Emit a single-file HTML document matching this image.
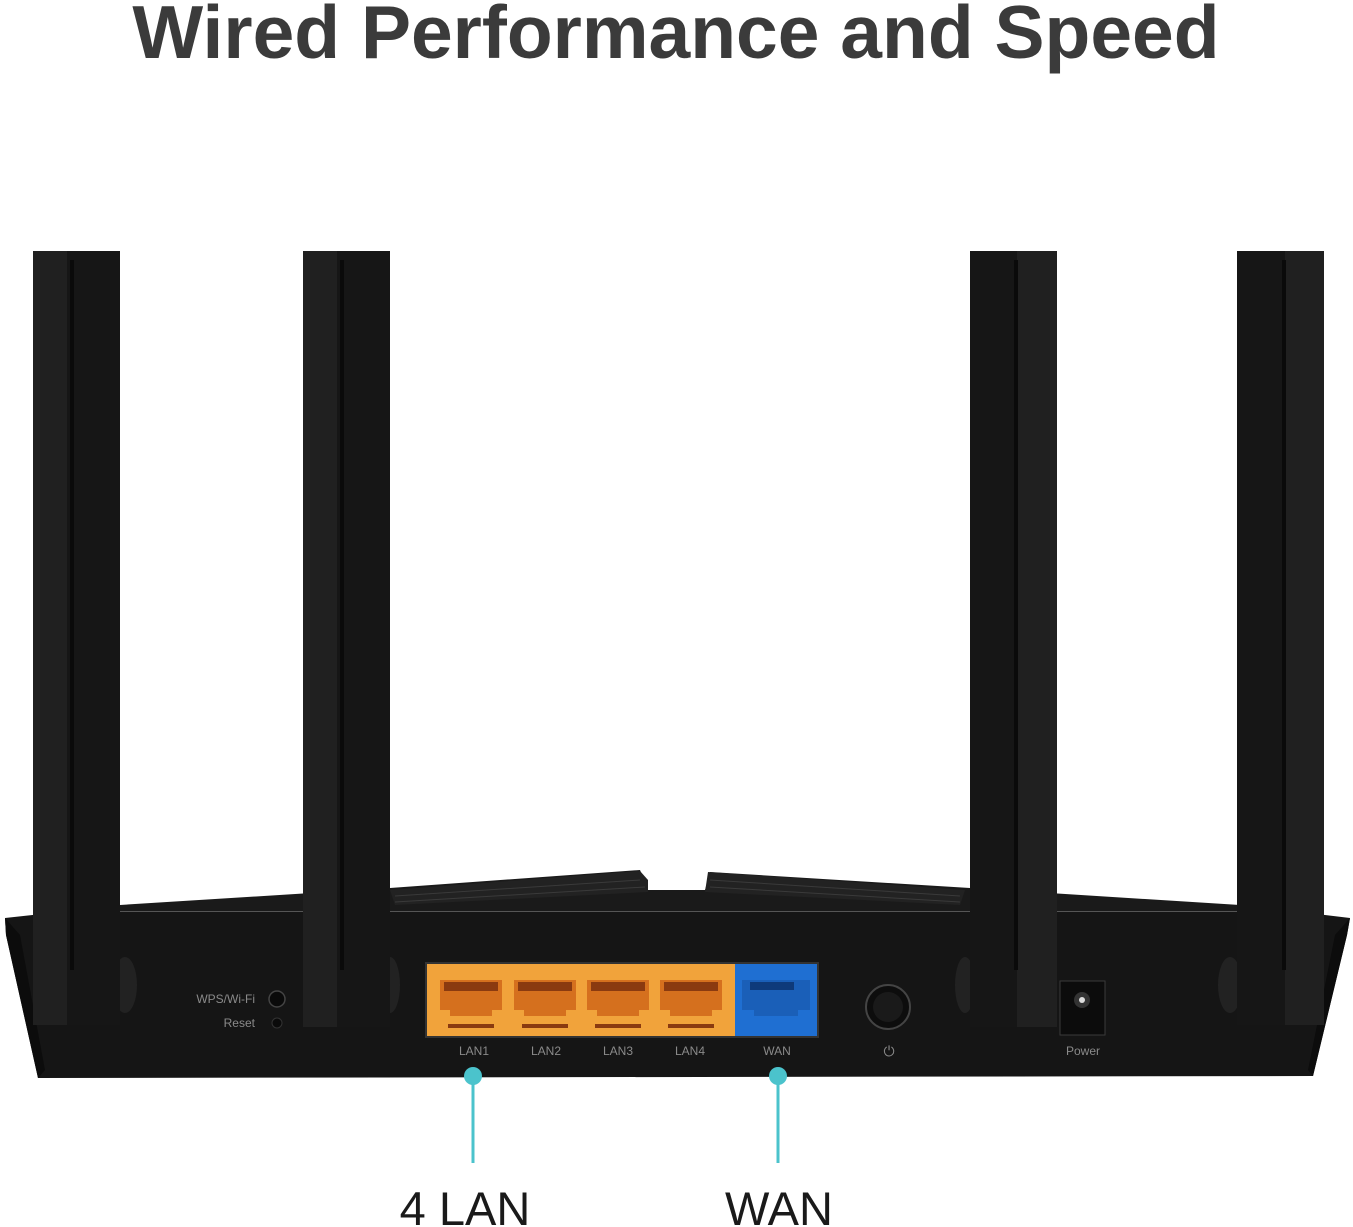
<!DOCTYPE html>
<html><head><meta charset="utf-8"><style>
html,body{margin:0;padding:0;background:#fff;}
svg{display:block;}
</style></head><body>
<svg width="1353" height="1227" viewBox="0 0 1353 1227" xmlns="http://www.w3.org/2000/svg">
<text x="676" y="58" text-anchor="middle" font-family="Liberation Sans, sans-serif" font-weight="bold" font-size="75" fill="#3b3b3b">Wired Performance and Speed</text>

<!-- top surface -->
<polygon points="120,905 390,888 640,870 648,890 705,890 710,872 970,888 1240,905 1300,912 60,912" fill="#1a1a1a"/>
<polygon points="390,890 640,871 648,880 648,892 395,905" fill="#222"/>
<polygon points="705,892 708,872 965,890 960,905" fill="#222"/>
<g stroke="#3a3a3a" stroke-width="1">
<line x1="395" y1="896" x2="640" y2="880"/><line x1="395" y1="902" x2="645" y2="887"/>
<line x1="710" y1="880" x2="960" y2="896"/><line x1="710" y1="887" x2="960" y2="902"/>
</g>
<line x1="60" y1="912" x2="1300" y2="912" stroke="#555" stroke-width="2"/>
<!-- front panel -->
<polygon points="5,918 60,912 1300,912 1350,918 1347,935 1313,1076 38,1078 6,935" fill="#151515"/>
<polygon points="5,918 20,935 45,1070 38,1078 6,935" fill="#0c0c0c"/>
<polygon points="1350,918 1335,935 1308,1070 1313,1076 1347,935" fill="#0c0c0c"/>

<!-- antenna bases -->
<ellipse cx="125" cy="985" rx="12" ry="28" fill="#222"/>
<ellipse cx="390" cy="985" rx="10" ry="28" fill="#222"/>
<ellipse cx="965" cy="985" rx="10" ry="28" fill="#222"/>
<ellipse cx="1230" cy="985" rx="12" ry="28" fill="#222"/>

<!-- antennas -->
<g>
<rect x="33" y="251" width="87" height="774" fill="#161616"/><rect x="33" y="251" width="34" height="774" fill="#202020"/><rect x="70" y="260" width="4" height="710" fill="#0a0a0a"/>
<rect x="303" y="251" width="87" height="776" fill="#161616"/><rect x="303" y="251" width="34" height="776" fill="#202020"/><rect x="340" y="260" width="4" height="710" fill="#0a0a0a"/>
<rect x="970" y="251" width="87" height="776" fill="#161616"/><rect x="1017" y="251" width="40" height="776" fill="#202020"/><rect x="1014" y="260" width="4" height="710" fill="#0a0a0a"/>
<rect x="1237" y="251" width="87" height="774" fill="#161616"/><rect x="1285" y="251" width="39" height="774" fill="#202020"/><rect x="1282" y="260" width="4" height="710" fill="#0a0a0a"/>
</g>

<!-- buttons -->
<g font-family="Liberation Sans, sans-serif" font-size="12" fill="#8a8a8a">
<text x="255" y="1003" text-anchor="end">WPS/Wi-Fi</text>
<text x="255" y="1027" text-anchor="end">Reset</text>
<text x="474" y="1055" text-anchor="middle">LAN1</text>
<text x="546" y="1055" text-anchor="middle">LAN2</text>
<text x="618" y="1055" text-anchor="middle">LAN3</text>
<text x="690" y="1055" text-anchor="middle">LAN4</text>
<text x="777" y="1055" text-anchor="middle">WAN</text>
<text x="1083" y="1055" text-anchor="middle">Power</text>
<text x="889" y="1056" text-anchor="middle" font-size="14">⏻</text>
</g>
<circle cx="277" cy="999" r="8" fill="#0a0a0a" stroke="#444" stroke-width="1.5"/>
<circle cx="277" cy="1023" r="5" fill="#0a0a0a" stroke="#333"/>
<circle cx="888" cy="1007" r="22" fill="#0d0d0d" stroke="#444" stroke-width="2"/>
<circle cx="888" cy="1007" r="15" fill="#1a1a1a"/>
<rect x="1060" y="981" width="45" height="54" fill="#0c0c0c" stroke="#3a3a3a"/>
<circle cx="1082" cy="1000" r="8" fill="#333"/><circle cx="1082" cy="1000" r="3" fill="#ddd"/>

<!-- port panel -->
<rect x="425" y="962" width="394" height="76" fill="#333"/>
<rect x="427" y="964" width="308" height="72" fill="#f1a33b"/>
<rect x="735" y="964" width="82" height="72" fill="#1f6fd2"/>
<g fill="#d5701e">
<path d="M440,980 h62 v30 h-10 v6 h-42 v-6 h-10 z"/>
<path d="M514,980 h62 v30 h-10 v6 h-42 v-6 h-10 z"/>
<path d="M587,980 h62 v30 h-10 v6 h-42 v-6 h-10 z"/>
<path d="M660,980 h62 v30 h-10 v6 h-42 v-6 h-10 z"/>
</g>
<g fill="#8a3a10">
<rect x="444" y="982" width="54" height="9"/><rect x="518" y="982" width="54" height="9"/><rect x="591" y="982" width="54" height="9"/><rect x="664" y="982" width="54" height="9"/>
<rect x="448" y="1024" width="46" height="4"/><rect x="522" y="1024" width="46" height="4"/><rect x="595" y="1024" width="46" height="4"/><rect x="668" y="1024" width="46" height="4"/>
</g>
<path d="M742,980 h68 v30 h-12 v6 h-44 v-6 h-12 z" fill="#1a5fb8"/>
<rect x="750" y="982" width="44" height="8" fill="#0e3a7a"/>

<!-- connectors -->
<g stroke="#4bc3cc" stroke-width="3"><line x1="473" y1="1076" x2="473" y2="1163"/><line x1="778" y1="1076" x2="778" y2="1163"/></g>
<circle cx="473" cy="1076" r="9" fill="#4bc3cc"/>
<circle cx="778" cy="1076" r="9" fill="#4bc3cc"/>
<g font-family="Liberation Sans, sans-serif" font-size="47" fill="#1a1a1a">
<text x="465" y="1225" text-anchor="middle">4 LAN</text>
<text x="779" y="1225" text-anchor="middle">WAN</text>
</g>
</svg>
</body></html>
